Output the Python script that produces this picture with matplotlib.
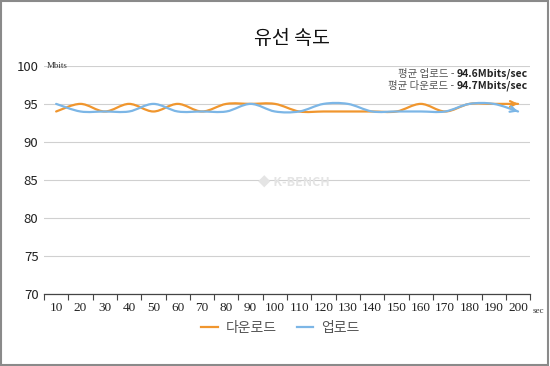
import numpy as np
import matplotlib
matplotlib.use("Agg")
import matplotlib.pyplot as plt
from matplotlib.path import Path
from matplotlib.patches import PathPatch, Rectangle
from matplotlib.lines import Line2D

plt.rcParams['font.family'] = ['Noto Sans CJK KR', 'DejaVu Sans']

seconds = [10, 20, 30, 40, 50, 60, 70, 80, 90, 100,
           110, 120, 130, 140, 150, 160, 170, 180, 190, 200]
download = [94, 95, 94, 95, 94, 95, 94, 95, 95, 95,
            94, 94, 94, 94, 94, 95, 94, 95, 95, 95]
upload = [95, 94, 94, 94, 95, 94, 94, 94, 95, 94,
          94, 95, 95, 94, 94, 94, 94, 95, 95, 94]
yticks = [70, 75, 80, 85, 90, 95, 100]
avg_labels = ['평균 업로드 - ', '평균 다운로드 - ']
avg_values = ['94.6Mbits/sec', '94.7Mbits/sec']

orange = '#F0962E'
blue = '#7CB6E6'


def smooth_path(xs, ys):
    # excel-like smoothed line: cubic bezier through every point
    pts = np.column_stack([xs, ys]).astype(float)
    n = len(pts)
    verts = [pts[0]]
    codes = [Path.MOVETO]
    for i in range(n - 1):
        p0 = pts[max(i - 1, 0)]
        p1 = pts[i]
        p2 = pts[i + 1]
        p3 = pts[min(i + 2, n - 1)]
        verts += [p1 + (p2 - p0) / 6, p2 - (p3 - p1) / 6, p2]
        codes += [Path.CURVE4] * 3
    return Path(verts, codes), verts[-2]


fig = plt.figure(figsize=(5.5, 3.66), dpi=100)
ax = fig.add_axes([0.08, 0.197, 0.884, 0.623])

x = np.arange(len(seconds))
for vals, col in [(download, orange), (upload, blue)]:
    path, ctrl = smooth_path(x, vals)
    ax.add_patch(PathPatch(path, facecolor='none', edgecolor=col, lw=1.6,
                           capstyle='round', joinstyle='round'))
    ax.annotate('', xy=(x[-1], vals[-1]), xytext=(ctrl[0], ctrl[1]),
                arrowprops=dict(arrowstyle='->', color=col, lw=1.6,
                                mutation_scale=10, shrinkA=0, shrinkB=0))

ax.set_xlim(-0.5, len(seconds) - 0.5)
ax.set_ylim(70, 100)
ax.set_yticks(yticks)
ax.yaxis.grid(True, color='#D0D0D0', lw=0.8)
ax.set_axisbelow(True)
ax.tick_params(axis='y', length=0, labelsize=9.5, colors='#222222', pad=4)

ax.set_xticks(x)
ax.set_xticklabels([str(s) for s in seconds], fontfamily='Liberation Serif',
                   fontsize=9.5, color='#222222')
ax.set_xticks(np.arange(len(seconds) + 1) - 0.5, minor=True)
ax.tick_params(axis='x', which='major', length=0, pad=6)
ax.tick_params(axis='x', which='minor', length=4, color='#444444', width=0.8)
for s in ['top', 'right', 'left']:
    ax.spines[s].set_visible(False)
ax.spines['bottom'].set_color('#444444')
ax.spines['bottom'].set_linewidth(0.9)

ax.text(0.005, 1.0, 'Mbits', transform=ax.transAxes, fontsize=6.5,
        fontfamily='Liberation Serif', color='#333333', va='center', ha='left')
ax.text(1.005, -0.075, 'sec', transform=ax.transAxes, fontsize=6.5,
        fontfamily='Liberation Serif', color='#333333', va='center', ha='left')

# averages: korean label + bold value, right aligned
fig.canvas.draw()
r = fig.canvas.get_renderer()
for ypos, label, val in zip([0.965, 0.912], avg_labels, avg_values):
    tv = ax.text(0.995, ypos, val, transform=ax.transAxes, fontsize=7.5,
                 color='#222222', ha='right', va='center', fontweight='bold')
    bb = tv.get_window_extent(r).transformed(ax.transAxes.inverted())
    ax.text(bb.x0, ypos, label, transform=ax.transAxes, fontsize=7.5,
            color='#555555', ha='right', va='center')

fig.text(0.53, 0.895, '유선 속도', ha='center', va='center', fontsize=14,
         color='#111111')

# faint watermark
fig.text(0.535, 0.50, '◆ K-BENCH', ha='center', va='center', fontsize=9,
         color='#E4E4E4', fontweight='bold')

handles = [Line2D([], [], color=orange, lw=1.6),
           Line2D([], [], color=blue, lw=1.6)]
fig.legend(handles, ['다운로드', '업로드'], loc='center', ncol=2,
           bbox_to_anchor=(0.51, 0.105), frameon=False, fontsize=10,
           handlelength=1.2, columnspacing=1.4, handletextpad=0.6,
           labelcolor='#555555')

fig.add_artist(Rectangle((0.002, 0.003), 0.995, 0.994, transform=fig.transFigure,
                         fill=False, edgecolor='#8A8A8A', lw=1.5))

fig.savefig('out.png', dpi=100)
